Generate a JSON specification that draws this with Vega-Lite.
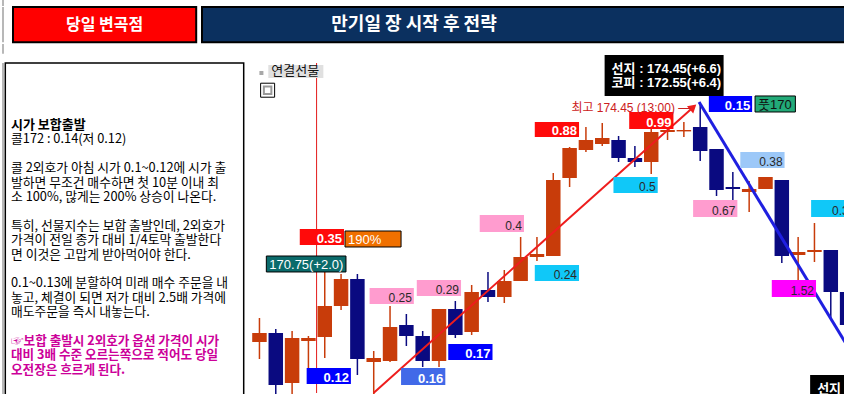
{
  "$schema": "https://vega.github.io/schema/vega-lite/v6.json",
  "padding": 0,
  "background": "white",
  "autosize": {"type": "pad"},
  "config": {"view": {"stroke": null}, "font": "Liberation Sans"},
  "datasets": {
    "candles": [
      {"i": 0, "o": 169.114, "h": 169.659, "l": 168.727, "c": 169.318},
      {"i": 1, "o": 169.318, "h": 169.409, "l": 167.8, "c": 168.136},
      {"i": 2, "o": 168.182, "h": 169.364, "l": 167.8, "c": 169.205},
      {"i": 3, "o": 169.136, "h": 169.25, "l": 168.273, "c": 169.205},
      {"i": 4, "o": 169.227, "h": 170.727, "l": 168.75, "c": 169.932},
      {"i": 5, "o": 169.932, "h": 170.659, "l": 169.841, "c": 170.545},
      {"i": 6, "o": 170.545, "h": 170.659, "l": 168.364, "c": 168.727},
      {"i": 7, "o": 168.659, "h": 168.909, "l": 167.8, "c": 168.75},
      {"i": 8, "o": 168.682, "h": 169.932, "l": 168.659, "c": 169.455},
      {"i": 9, "o": 169.5, "h": 169.75, "l": 169.023, "c": 169.25},
      {"i": 10, "o": 169.25, "h": 169.364, "l": 168.545, "c": 168.682},
      {"i": 11, "o": 168.682, "h": 169.864, "l": 168.545, "c": 169.864},
      {"i": 12, "o": 169.864, "h": 170.045, "l": 169.205, "c": 169.273},
      {"i": 13, "o": 169.341, "h": 170.409, "l": 169.273, "c": 170.25},
      {"i": 14, "o": 170.295, "h": 170.705, "l": 170.023, "c": 170.136},
      {"i": 15, "o": 170.136, "h": 170.75, "l": 170.0, "c": 170.5},
      {"i": 16, "o": 170.5, "h": 171.5, "l": 170.5, "c": 171.045},
      {"i": 17, "o": 171.045, "h": 171.5, "l": 170.955, "c": 171.114},
      {"i": 18, "o": 171.068, "h": 172.955, "l": 171.068, "c": 172.795},
      {"i": 19, "o": 172.841, "h": 173.545, "l": 172.636, "c": 173.523},
      {"i": 20, "o": 173.477, "h": 174.0, "l": 173.432, "c": 173.705},
      {"i": 21, "o": 173.614, "h": 174.091, "l": 173.568, "c": 173.75},
      {"i": 22, "o": 173.705, "h": 173.795, "l": 173.205, "c": 173.295},
      {"i": 23, "o": 173.295, "h": 173.568, "l": 173.091, "c": 173.205},
      {"i": 24, "o": 173.205, "h": 174.0, "l": 172.932, "c": 173.886},
      {"i": 25, "o": 173.886, "h": 174.136, "l": 173.705, "c": 173.932},
      {"i": 26, "o": 173.9, "h": 174.114, "l": 173.773, "c": 173.932},
      {"i": 27, "o": 174.0, "h": 174.568, "l": 173.227, "c": 173.455},
      {"i": 28, "o": 173.5, "h": 173.5, "l": 172.432, "c": 172.568},
      {"i": 29, "o": 172.636, "h": 172.977, "l": 172.341, "c": 172.591},
      {"i": 30, "o": 172.523, "h": 172.773, "l": 172.068, "c": 172.591},
      {"i": 31, "o": 172.591, "h": 172.864, "l": 172.591, "c": 172.864},
      {"i": 32, "o": 172.795, "h": 172.795, "l": 170.909, "c": 171.068},
      {"i": 33, "o": 171.091, "h": 171.5, "l": 170.523, "c": 171.159},
      {"i": 34, "o": 171.159, "h": 171.818, "l": 170.932, "c": 171.205},
      {"i": 35, "o": 171.205, "h": 171.205, "l": 169.636, "c": 170.25},
      {"i": 36, "o": 170.25, "h": 170.25, "l": 169.3, "c": 169.5}
    ],
    "tags": [
      {"label": "170.75(+2.0)", "kind": "시가", "x1": 0.422, "x2": 5.301, "top": 171.068, "bottom": 170.705},
      {"label": "0.35", "kind": "고가", "x1": 2.47, "x2": 5.181, "top": 171.682, "bottom": 171.318},
      {"label": "190%", "kind": "상승률", "x1": 5.241, "x2": 8.675, "top": 171.636, "bottom": 171.273},
      {"label": "0.12", "kind": "저가", "x1": 2.892, "x2": 5.602, "top": 168.523, "bottom": 168.159},
      {"label": "0.25", "kind": "중간", "x1": 6.747, "x2": 9.458, "top": 170.341, "bottom": 169.977},
      {"label": "0.29", "kind": "중간", "x1": 9.639, "x2": 12.349, "top": 170.523, "bottom": 170.159},
      {"label": "0.16", "kind": "저가2", "x1": 8.675, "x2": 11.386, "top": 168.523, "bottom": 168.136},
      {"label": "0.17", "kind": "저가", "x1": 11.566, "x2": 14.277, "top": 169.068, "bottom": 168.705},
      {"label": "0.4", "kind": "중간", "x1": 13.494, "x2": 16.205, "top": 172.0, "bottom": 171.614},
      {"label": "0.24", "kind": "풋", "x1": 16.867, "x2": 19.578, "top": 170.864, "bottom": 170.5},
      {"label": "0.88", "kind": "고가", "x1": 16.867, "x2": 19.578, "top": 174.114, "bottom": 173.773},
      {"label": "0.99", "kind": "고가", "x1": 22.651, "x2": 25.361, "top": 174.341, "bottom": 173.955},
      {"label": "0.5", "kind": "풋", "x1": 21.687, "x2": 24.398, "top": 172.864, "bottom": 172.5},
      {"label": "0.15", "kind": "저가", "x1": 27.53, "x2": 30.181, "top": 174.705, "bottom": 174.341},
      {"label": "풋170", "kind": "행사가", "x1": 30.361, "x2": 32.831, "top": 174.705, "bottom": 174.341},
      {"label": "0.38", "kind": "풋2", "x1": 29.458, "x2": 32.169, "top": 173.432, "bottom": 173.068},
      {"label": "0.67", "kind": "중간", "x1": 26.566, "x2": 29.277, "top": 172.341, "bottom": 171.955},
      {"label": "0.36", "kind": "풋", "x1": 33.795, "x2": 36.627, "top": 172.341, "bottom": 171.955},
      {"label": "1.52", "kind": "급등", "x1": 31.386, "x2": 34.096, "top": 170.523, "bottom": 170.136},
      {"label": "선지 : 174.45(+6.6)\n코피 : 172.55(+6.4)", "kind": "현재가", "x1": 21.145, "x2": 28.434, "top": 175.636, "bottom": 174.705},
      {"label": "선지", "kind": "현재가", "x1": 33.735, "x2": 36.2, "top": 168.364, "bottom": 167.7},
      {"label": "연결선물", "kind": "메뉴", "x1": 0.542, "x2": 3.916, "top": 175.409, "bottom": 175.114}
    ],
    "trends": [
      {"trend": "상승", "i": 6.99, "p": 167.955},
      {"trend": "상승", "i": 26.57, "p": 174.45},
      {"trend": "하락", "i": 26.93, "p": 174.57},
      {"trend": "하락", "i": 36.3, "p": 168.85}
    ],
    "memo": [
      {"line": 0, "part": "제목", "text": "시가 보합출발"},
      {"line": 1, "part": "본문", "text": "콜172 : 0.14(저 0.12)"},
      {"line": 3, "part": "본문", "text": "콜 2외호가 아침 시가 0.1~0.12에  시가 출"},
      {"line": 4, "part": "본문", "text": "발하면 무조건 매수하면 첫 10분 이내 최"},
      {"line": 5, "part": "본문", "text": "소 100%, 많게는 200%  상승이 나온다."},
      {"line": 7, "part": "본문", "text": "특히, 선물지수는 보합 출발인데, 2외호가"},
      {"line": 8, "part": "본문", "text": "가격이 전일 종가 대비 1/4토막 출발한다"},
      {"line": 9, "part": "본문", "text": "면 이것은 고맙게 받아먹어야 한다."},
      {"line": 11, "part": "본문", "text": "0.1~0.13에  분할하여 미래 매수 주문을 내"},
      {"line": 12, "part": "본문", "text": "놓고, 체결이 되면 저가 대비 2.5배 가격에"},
      {"line": 13, "part": "본문", "text": "매도주문을 즉시 내놓는다."},
      {"line": 15, "part": "강조", "text": "☞보합 출발시 2외호가 옵션 가격이 시가"},
      {"line": 16, "part": "강조", "text": "대비 3배 수준 오르는쪽으로 적어도 당일"},
      {"line": 17, "part": "강조", "text": "오전장은 흐르게 된다."}
    ]
  },
  "vconcat": [
    {"width": 2, "height": 6, "view": {"fill": "#b8b8b8", "stroke": null}, "data": {"values": [{}]}, "mark": {"type": "point", "opacity": 0}},
    {
      "hconcat": [
        {"width": 2, "height": 35.3, "view": {"fill": "#b8b8b8", "stroke": null}, "data": {"values": [{}]}, "mark": {"type": "point", "opacity": 0}},
        {
          "hconcat": [
            {
              "width": 183.2, "height": 35.3,
              "view": {"fill": "#ff0000", "stroke": "#000000", "strokeWidth": 2},
              "data": {"values": [{"title": "당일 변곡점"}]},
              "mark": {"type": "text", "font": "Noto Sans CJK KR", "fontSize": 16, "fontWeight": "bold", "color": "white", "align": "center", "baseline": "middle"},
              "encoding": {"text": {"field": "title"}}
            },
            {
              "width": 660, "height": 35.3,
              "view": {"fill": "#0b305f", "stroke": "#000000", "strokeWidth": 2},
              "data": {"values": [{"title": "만기일 장 시작 후 전략"}]},
              "mark": {"type": "text", "font": "Noto Sans CJK KR", "fontSize": 18, "fontWeight": "bold", "color": "white", "align": "center", "baseline": "middle", "dx": -118},
              "encoding": {"text": {"field": "title"}}
            }
          ],
          "spacing": 5,
          "bounds": "flush"
        }
      ],
      "spacing": 9,
      "bounds": "flush"
    },
    {"width": 2, "height": 9.7, "view": {"fill": "#b8b8b8", "stroke": null}, "data": {"values": [{}]}, "mark": {"type": "point", "opacity": 0}},
    {
      "hconcat": [
        {"width": 2, "height": 345, "view": {"fill": "#b8b8b8", "stroke": null}, "data": {"values": [{}]}, "mark": {"type": "point", "opacity": 0}},
        {
          "width": 238.4, "height": 345,
          "view": {"fill": "white", "stroke": "#000000", "strokeWidth": 1.5},
          "data": {"name": "memo"},
          "encoding": {
            "x": {"datum": 0, "type": "quantitative", "scale": {"domain": [0, 1]}, "axis": null},
            "y": {"field": "line", "type": "quantitative", "scale": {"domain": [-4.3056, 19.6528], "reverse": true, "nice": false, "zero": false}, "axis": null},
            "text": {"field": "text"}
          },
          "layer": [
            {"transform": [{"filter": {"field": "part", "equal": "제목"}}], "mark": {"type": "text", "align": "left", "baseline": "middle", "dx": 5.7, "font": "Noto Sans CJK KR", "fontSize": 13, "fontWeight": "bold", "color": "#000000"}},
            {"transform": [{"filter": {"field": "part", "equal": "본문"}}], "mark": {"type": "text", "align": "left", "baseline": "middle", "dx": 5.7, "font": "Noto Sans CJK KR", "fontSize": 12.8, "color": "#000000"}},
            {"transform": [{"filter": {"field": "part", "equal": "강조"}}], "mark": {"type": "text", "align": "left", "baseline": "middle", "dx": 5.7, "font": "Noto Sans CJK KR", "fontSize": 12.6, "fontWeight": "bold", "color": "#cc0099"}}
          ]
        },
        {
          "width": 601, "height": 330,
          "view": {"fill": "white", "stroke": null},
          "layer": [
            {
              "data": {"values": [{"event": "개장", "i": 3.5}]},
              "mark": {"type": "rule", "color": "#e31b1b", "strokeWidth": 1},
              "encoding": {"x": {"field": "i", "type": "quantitative", "scale": {"domain": [-0.5422, 35.6627], "nice": false, "zero": false}, "axis": null}}
            },
            {
              "data": {"name": "candles"},
              "mark": {"type": "rule", "strokeWidth": 1.5},
              "encoding": {
                "x": {"field": "i", "type": "quantitative", "scale": {"domain": [-0.5422, 35.6627], "nice": false, "zero": false},
                  "axis": {"orient": "top", "values": [1.5, 8.5, 14.5, 20.5, 26.5, 32.5], "grid": true, "gridColor": "#d2d2d2", "gridWidth": 1.2, "labels": false, "ticks": false, "domain": true, "domainColor": "#8c8c8c", "domainWidth": 1.5, "title": null}},
                "y": {"field": "l", "type": "quantitative", "scale": {"domain": [167.9545, 175.4545], "nice": false, "zero": false},
                  "axis": {"values": [168, 169, 170, 171, 172, 173, 174, 175], "grid": true, "gridColor": "#d2d2d2", "gridWidth": 1.2, "labels": false, "ticks": false, "domain": false, "title": null}},
                "y2": {"field": "h"},
                "color": {"condition": {"test": "datum.c >= datum.o", "value": "#c83c0a"}, "value": "#0a0a80"}
              }
            },
            {
              "data": {"name": "candles"},
              "mark": {"type": "bar", "size": 14.5},
              "encoding": {
                "x": {"field": "i", "type": "quantitative", "scale": {"domain": [-0.5422, 35.6627], "nice": false, "zero": false}, "axis": null},
                "y": {"field": "o", "type": "quantitative", "scale": {"domain": [167.9545, 175.4545], "nice": false, "zero": false}, "axis": null},
                "y2": {"field": "c"},
                "color": {"condition": {"test": "datum.c >= datum.o", "value": "#c83c0a"}, "value": "#0a0a80"}
              }
            },
            {
              "data": {"name": "trends"},
              "transform": [{"filter": {"field": "trend", "equal": "상승"}}],
              "mark": {"type": "line", "color": "#ee1d1d", "strokeWidth": 2},
              "encoding": {
                "x": {"field": "i", "type": "quantitative", "scale": {"domain": [-0.5422, 35.6627], "nice": false, "zero": false}, "axis": null},
                "y": {"field": "p", "type": "quantitative", "scale": {"domain": [167.9545, 175.4545], "nice": false, "zero": false}, "axis": null}
              }
            },
            {
              "data": {"name": "trends"},
              "transform": [{"filter": {"field": "trend", "equal": "하락"}}],
              "mark": {"type": "line", "color": "#1f1fe0", "strokeWidth": 3},
              "encoding": {
                "x": {"field": "i", "type": "quantitative", "scale": {"domain": [-0.5422, 35.6627], "nice": false, "zero": false}, "axis": null},
                "y": {"field": "p", "type": "quantitative", "scale": {"domain": [167.9545, 175.4545], "nice": false, "zero": false}, "axis": null}
              }
            },
            {
              "data": {"name": "trends"},
              "transform": [{"filter": {"field": "trend", "equal": "상승"}}, {"filter": {"field": "i", "gt": 20}}],
              "mark": {"type": "point", "shape": "triangle-up", "angle": 48.7, "size": 90, "filled": true, "color": "#ee1d1d", "opacity": 1},
              "encoding": {
                "x": {"field": "i", "type": "quantitative", "scale": {"domain": [-0.5422, 35.6627], "nice": false, "zero": false}, "axis": null},
                "y": {"field": "p", "type": "quantitative", "scale": {"domain": [167.9545, 175.4545], "nice": false, "zero": false}, "axis": null}
              }
            },
            {
              "data": {"name": "tags"},
              "mark": {"type": "rect", "strokeWidth": 1, "opacity": 1},
              "encoding": {
                "x": {"field": "x1", "type": "quantitative", "scale": {"domain": [-0.5422, 35.6627], "nice": false, "zero": false}, "axis": null},
                "x2": {"field": "x2"},
                "y": {"field": "top", "type": "quantitative", "scale": {"domain": [167.9545, 175.4545], "nice": false, "zero": false}, "axis": null},
                "y2": {"field": "bottom"},
                "color": {"field": "kind", "type": "nominal", "legend": null,
                  "scale": {"domain": ["고가", "저가", "저가2", "중간", "풋", "풋2", "급등", "상승률", "시가", "행사가", "현재가", "메뉴"],
                    "range": ["#ff0a0a", "#0000ff", "#4169e8", "#ff9ccf", "#10c8f8", "#9cc8f8", "#ff00ff", "#f07000", "#0b6b6b", "#22aa78", "#000000", "#e0e0e0"]}},
                "stroke": {"condition": {"test": "indexof(['상승률','시가','행사가'], datum.kind) >= 0", "value": "#000000"}, "value": "transparent"}
              }
            },
            {
              "data": {"name": "tags"},
              "transform": [{"filter": {"field": "kind", "oneOf": ["고가", "저가", "저가2"]}}],
              "mark": {"type": "text", "align": "right", "baseline": "alphabetic", "dx": -2, "dy": -2, "font": "Liberation Sans", "fontSize": 13, "fontWeight": "bold", "color": "white"},
              "encoding": {
                "x": {"field": "x2", "type": "quantitative", "scale": {"domain": [-0.5422, 35.6627], "nice": false, "zero": false}, "axis": null},
                "y": {"field": "bottom", "type": "quantitative", "scale": {"domain": [167.9545, 175.4545], "nice": false, "zero": false}, "axis": null},
                "text": {"field": "label"}
              }
            },
            {
              "data": {"name": "tags"},
              "transform": [{"filter": {"field": "kind", "oneOf": ["중간", "풋", "풋2", "급등"]}}],
              "mark": {"type": "text", "align": "right", "baseline": "alphabetic", "dx": -2, "dy": -2, "font": "Liberation Sans", "fontSize": 12, "color": "#2a2a2a"},
              "encoding": {
                "x": {"field": "x2", "type": "quantitative", "scale": {"domain": [-0.5422, 35.6627], "nice": false, "zero": false}, "axis": null},
                "y": {"field": "bottom", "type": "quantitative", "scale": {"domain": [167.9545, 175.4545], "nice": false, "zero": false}, "axis": null},
                "text": {"field": "label"}
              }
            },
            {
              "data": {"name": "tags"},
              "transform": [{"filter": {"field": "kind", "oneOf": ["상승률", "시가", "행사가", "메뉴"]}}],
              "mark": {"type": "text", "align": "left", "baseline": "alphabetic", "dx": 3, "dy": -2.5, "font": "Liberation Sans, Noto Sans CJK KR", "fontSize": 13},
              "encoding": {
                "x": {"field": "x1", "type": "quantitative", "scale": {"domain": [-0.5422, 35.6627], "nice": false, "zero": false}, "axis": null},
                "y": {"field": "bottom", "type": "quantitative", "scale": {"domain": [167.9545, 175.4545], "nice": false, "zero": false}, "axis": null},
                "text": {"field": "label"},
                "color": {"condition": {"test": "indexof(['상승률','시가'], datum.kind) >= 0", "value": "#ffffff"}, "value": "#111111"}
              }
            },
            {
              "data": {"name": "tags"},
              "transform": [{"filter": {"field": "kind", "equal": "현재가"}}],
              "mark": {"type": "text", "align": "left", "baseline": "top", "dx": 7, "dy": 8, "lineBreak": "\n", "lineHeight": 14, "font": "Liberation Sans, Noto Sans CJK KR", "fontSize": 13, "fontWeight": "bold", "color": "white"},
              "encoding": {
                "x": {"field": "x1", "type": "quantitative", "scale": {"domain": [-0.5422, 35.6627], "nice": false, "zero": false}, "axis": null},
                "y": {"field": "top", "type": "quantitative", "scale": {"domain": [167.9545, 175.4545], "nice": false, "zero": false}, "axis": null},
                "text": {"field": "label"}
              }
            },
            {
              "data": {"values": [{"note": "최고 174.45 (13:00) —", "i": 26.39, "p": 174.33}]},
              "mark": {"type": "text", "align": "right", "baseline": "alphabetic", "font": "Liberation Sans, Noto Sans CJK KR", "fontSize": 12, "color": "#cc2020"},
              "encoding": {
                "x": {"field": "i", "type": "quantitative", "scale": {"domain": [-0.5422, 35.6627], "nice": false, "zero": false}, "axis": null},
                "y": {"field": "p", "type": "quantitative", "scale": {"domain": [167.9545, 175.4545], "nice": false, "zero": false}, "axis": null},
                "text": {"field": "note"}
              }
            },
            {
              "data": {"values": [{"widget": "점", "i": 0.12, "p": 175.227}]},
              "mark": {"type": "point", "shape": "square", "size": 16, "filled": true, "color": "#a8a8a8", "opacity": 1},
              "encoding": {
                "x": {"field": "i", "type": "quantitative", "scale": {"domain": [-0.5422, 35.6627], "nice": false, "zero": false}, "axis": null},
                "y": {"field": "p", "type": "quantitative", "scale": {"domain": [167.9545, 175.4545], "nice": false, "zero": false}, "axis": null}
              }
            },
            {
              "data": {"values": [{"widget": "틀", "i": 0.5, "p": 174.836}]},
              "mark": {"type": "point", "shape": "square", "size": 196, "filled": true, "fill": "white", "stroke": "#000000", "strokeWidth": 1, "opacity": 1},
              "encoding": {
                "x": {"field": "i", "type": "quantitative", "scale": {"domain": [-0.5422, 35.6627], "nice": false, "zero": false}, "axis": null},
                "y": {"field": "p", "type": "quantitative", "scale": {"domain": [167.9545, 175.4545], "nice": false, "zero": false}, "axis": null}
              }
            },
            {
              "data": {"values": [{"widget": "틀", "i": 0.5, "p": 174.836}]},
              "mark": {"type": "point", "shape": "square", "size": 56, "filled": false, "stroke": "#999999", "strokeWidth": 2, "opacity": 1},
              "encoding": {
                "x": {"field": "i", "type": "quantitative", "scale": {"domain": [-0.5422, 35.6627], "nice": false, "zero": false}, "axis": null},
                "y": {"field": "p", "type": "quantitative", "scale": {"domain": [167.9545, 175.4545], "nice": false, "zero": false}, "axis": null}
              }
            }
          ]
        }
      ],
      "spacing": 1.3,
      "bounds": "flush"
    }
  ],
  "spacing": 0
}
